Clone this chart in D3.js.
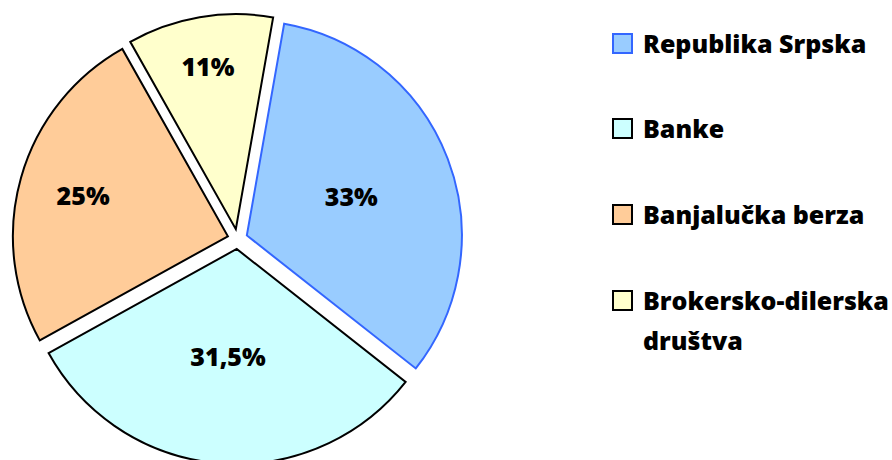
<!DOCTYPE html>
<html>
<head>
<meta charset="utf-8">
<script src="https://cdn.jsdelivr.net/npm/d3@7"></script>
<style>
  body { margin: 0; background: #fff; }
  text { font-family: "Open Sans", Lato, sans-serif; font-weight: bold; fill: #000; }
</style>
</head>
<body>
<div class="container"></div>
<script>
const categories = ["Republika Srpska", "Banke", "Banjalučka berza", "Brokersko-dilerska društva"]
const values = [33, 31.5, 25, 11]
const valueLabels = ["33%", "31,5%", "25%", "11%"]
const fills = ["#99ccff", "#ccffff", "#ffcc99", "#ffffcc"]
const strokes = ["#3366ff", "#000", "#000", "#000"]

const width = 892, height = 460
const cx = 237.5, cy = 239, radius = 215, explode = 10
// how far out each label sits, as a share of the radius
const labelRatio = [0.52, 0.5, 0.7, 0.77]

const svg = d3.select(".container")
              .append("svg")
              .attr("width", width)
              .attr("height", height)

const pie = d3.pie()
              .sort(null)
              .value(d => d)
              .startAngle(10 * Math.PI / 180)
              .endAngle(370 * Math.PI / 180)

const arcs = pie(values)
const arc = d3.arc().innerRadius(0).outerRadius(radius)

const slices = svg.append("g")
                  .attr("transform", `translate(${cx},${cy})`)

slices.selectAll("path")
      .data(arcs)
      .enter()
      .append("path")
      .attr("d", arc)
      .attr("transform", d => {
          let mid = (d.startAngle + d.endAngle) / 2
          return `translate(${Math.sin(mid) * explode},${-Math.cos(mid) * explode})`
      })
      .attr("fill", (d, i) => fills[i])
      .attr("stroke", (d, i) => strokes[i])
      .attr("stroke-width", 2)
      .attr("stroke-linejoin", "miter")

slices.selectAll("text")
      .data(arcs)
      .enter()
      .append("text")
      .attr("x", (d, i) => {
          let mid = (d.startAngle + d.endAngle) / 2
          return Math.sin(mid) * (radius * labelRatio[i] + explode)
      })
      .attr("y", (d, i) => {
          let mid = (d.startAngle + d.endAngle) / 2
          return -Math.cos(mid) * (radius * labelRatio[i] + explode)
      })
      .attr("text-anchor", "middle")
      .attr("dominant-baseline", "central")
      .style("font-size", "25px")
      .style("font-weight", 800)
      .text((d, i) => valueLabels[i])

// legend
const rowY = [43, 128, 214, 300]
const legend = svg.append("g")

const rows = legend.selectAll("g")
                   .data(categories)
                   .enter()
                   .append("g")
                   .attr("transform", (d, i) => `translate(613,${rowY[i]})`)

rows.append("rect")
    .attr("x", 0)
    .attr("y", -9)
    .attr("width", 19)
    .attr("height", 19)
    .attr("fill", (d, i) => fills[i])
    .attr("stroke", (d, i) => strokes[i])
    .attr("stroke-width", 2)

rows.append("text")
    .attr("x", 30)
    .attr("y", 10)
    .style("font-size", "25px")
    .style("font-weight", 800)
    .each(function(d) {
        let parts = d === "Brokersko-dilerska društva" ? ["Brokersko-dilerska", "društva"] : [d]
        let t = d3.select(this)
        parts.forEach((p, k) => {
            t.append("tspan")
             .attr("x", 30)
             .attr("dy", k === 0 ? 0 : 40)
             .text(p)
        })
    })
</script>
</body>
</html>
